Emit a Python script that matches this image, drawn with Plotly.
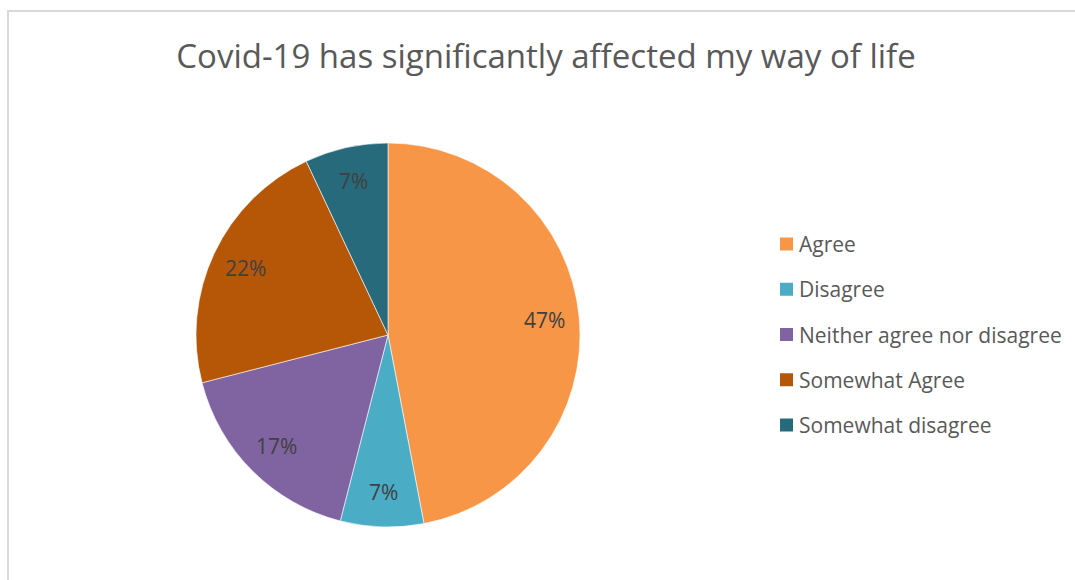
import math
import plotly.graph_objects as go

# Survey responses: "Covid-19 has significantly affected my way of life"
categories = ["Agree", "Disagree", "Neither agree nor disagree",
              "Somewhat Agree", "Somewhat disagree"]
shares = [47, 7, 17, 22, 7]
slice_colors = ["#F79646", "#4BACC6", "#8064A2", "#B65708", "#276A7C"]

W, H = 1075, 580
FONT = "Open Sans, Lato, sans-serif"

# pie placement in pixels (square box)
cx, cy, r = 388, 335, 192

fig = go.Figure(go.Pie(
    labels=categories,
    values=shares,
    sort=False,
    direction="clockwise",
    rotation=0,
    marker=dict(colors=slice_colors, line=dict(color="white", width=0.6)),
    textinfo="none",
    showlegend=False,
    hoverinfo="label+percent",
    domain=dict(x=[(cx - r) / W, (cx + r) / W],
                y=[1 - (cy + r) / H, 1 - (cy - r) / H]),
))

shapes = []
annotations = []

# percentage labels placed at each slice's mid-angle, near the rim
total = sum(shares)
start = 0.0
for v in shares:
    frac = v / total
    mid = (start + frac / 2) * 2 * math.pi  # clockwise from 12 o'clock
    start += frac
    px = cx + 0.82 * r * math.sin(mid)
    py = cy - 0.82 * r * math.cos(mid)
    annotations.append(dict(text=f"{round(frac * 100)}%", xref="paper", yref="paper",
                            x=px / W, y=1 - py / H, xanchor="center", yanchor="middle",
                            showarrow=False,
                            font=dict(family=FONT, size=21, color="#404040")))

# legend drawn as colour swatches plus labels
leg_x, leg_y0, leg_step, sw = 780, 244, 45.25, 13
for i, (name, col) in enumerate(zip(categories, slice_colors)):
    yc = leg_y0 + i * leg_step
    shapes.append(dict(type="rect", xref="paper", yref="paper",
                       x0=leg_x / W, x1=(leg_x + sw) / W,
                       y0=1 - (yc + sw / 2) / H, y1=1 - (yc - sw / 2) / H,
                       fillcolor=col, line=dict(width=0)))
    annotations.append(dict(text=name, xref="paper", yref="paper",
                            x=(leg_x + sw + 4) / W, y=1 - yc / H,
                            xanchor="left", yanchor="middle", showarrow=False,
                            font=dict(family=FONT, size=21, color="#595959")))

# chart frame
shapes.append(dict(type="rect", xref="paper", yref="paper",
                   x0=8 / W, x1=1.02, y0=-0.02, y1=1 - 11 / H,
                   line=dict(color="#D9D9D9", width=2), fillcolor="rgba(0,0,0,0)"))

fig.update_layout(
    width=W, height=H,
    margin=dict(l=0, r=0, t=0, b=0),
    paper_bgcolor="white",
    plot_bgcolor="white",
    title=dict(text="Covid-19 has significantly affected my way of life",
               x=546 / W, xanchor="center", y=1 - 56 / H, yanchor="middle",
               font=dict(family=FONT, size=33, color="#595959")),
    shapes=shapes,
    annotations=annotations,
)

fig.write_html("out.html")
